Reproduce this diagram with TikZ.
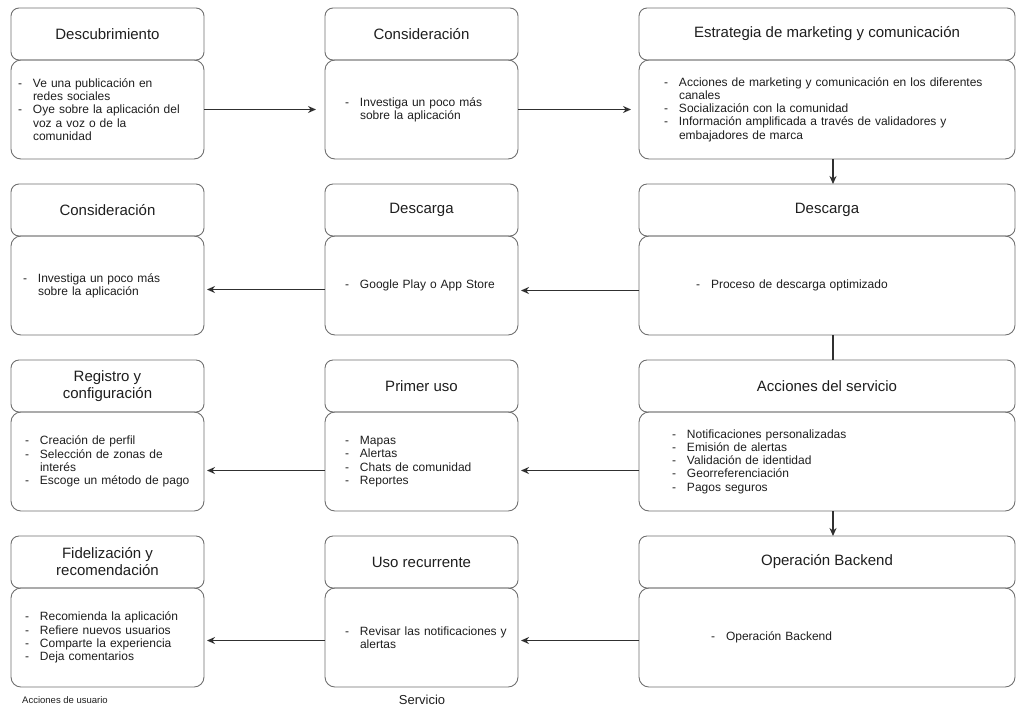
\documentclass[tikz,border=0pt]{standalone}
\usepackage{fontspec}
\setmainfont{Liberation Sans}
\usetikzlibrary{arrows.meta,positioning}
\definecolor{Ink}{HTML}{1E1E1E}
\definecolor{Edge}{HTML}{6F6F6F}
\definecolor{Muted}{HTML}{303030}
\newcommand{\li}[1]{\mbox{\makebox[15pt][l]{-}#1}}
\newcommand{\co}[1]{\mbox{\hspace*{15pt}#1}}
\tikzset{head/.style={rounded corners=8pt,draw=Edge,line width=.9pt,minimum height=52pt,align=center,outer sep=0pt,text=Ink,font=\fontsize{15}{17}\selectfont},panel/.style={rounded corners=10pt,draw=Edge,line width=.9pt,minimum height=99pt,align=left,outer sep=0pt,text=Ink,font=\fontsize{12}{13.3}\selectfont},narrow/.style={minimum width=193pt},wide/.style={minimum width=376pt},flow/.style={-{Stealth[length=8pt,width=7pt]},line width=1.4pt,draw=Muted},link/.style={line width=1.4pt,draw=Muted},caption/.style={text=Ink,font=\fontsize{9.5}{11}\selectfont}}

\begin{document}
\begin{tikzpicture}
      \useasboundingbox (0,0) rectangle (1016pt,-710pt);
      % fila 1
      \node[head,narrow,anchor=north west](t11) at (11pt,-8pt){Descubrimiento};
      \node[panel,narrow,inner xsep=7pt,text width=179pt,below=0pt of t11](b11){\li{Ve una publicación en}\\\co{redes sociales}\\\li{Oye sobre la aplicación del}\\\co{voz a voz o de la}\\\co{comunidad}};
      \node[head,narrow,right=121pt of t11](t12){Consideración};
      \node[panel,narrow,inner xsep=20pt,text width=153pt,below=0pt of t12](b12){\li{Investiga un poco más}\\\co{sobre la aplicación}};
      \node[head,wide,right=121pt of t12](t13){Estrategia de marketing y comunicación};
      \node[panel,wide,inner xsep=25pt,text width=326pt,below=0pt of t13](b13){\li{Acciones de marketing y comunicación en los diferentes}\\\co{canales}\\\li{Socialización con la comunidad}\\\li{Información amplificada a través de validadores y}\\\co{embajadores de marca}};
      % fila 2
      \node[head,narrow,below=25pt of b11](t21){Consideración};
      \node[panel,narrow,inner xsep=12pt,text width=169pt,below=0pt of t21](b21){\li{Investiga un poco más}\\\co{sobre la aplicación}};
      \node[head,narrow,below=25pt of b12](t22){Descarga};
      \node[panel,narrow,inner xsep=20pt,text width=153pt,below=0pt of t22](b22){\li{Google Play o App Store}};
      \node[head,wide,below=25pt of b13](t23){Descarga};
      \node[panel,wide,inner xsep=57pt,text width=262pt,below=0pt of t23](b23){\li{Proceso de descarga optimizado}};
      % fila 3
      \node[head,narrow,below=25pt of b21](t31){Registro y\\configuración};
      \node[panel,narrow,inner xsep=14pt,text width=165pt,below=0pt of t31](b31){\li{Creación de perfil}\\\li{Selección de zonas de}\\\co{interés}\\\li{Escoge un método de pago}};
      \node[head,narrow,below=25pt of b22](t32){Primer uso};
      \node[panel,narrow,inner xsep=20pt,text width=153pt,below=0pt of t32](b32){\li{Mapas}\\\li{Alertas}\\\li{Chats de comunidad}\\\li{Reportes}};
      \node[head,wide,below=25pt of b23](t33){Acciones del servicio};
      \node[panel,wide,inner xsep=33pt,text width=310pt,below=0pt of t33](b33){\li{Notificaciones personalizadas}\\\li{Emisión de alertas}\\\li{Validación de identidad}\\\li{Georreferenciación}\\\li{Pagos seguros}};
      % fila 4
      \node[head,narrow,below=25pt of b31](t41){Fidelización y\\recomendación};
      \node[panel,narrow,inner xsep=14pt,text width=165pt,below=0pt of t41](b41){\li{Recomienda la aplicación}\\\li{Refiere nuevos usuarios}\\\li{Comparte la experiencia}\\\li{Deja comentarios}};
      \node[head,narrow,below=25pt of b32](t42){Uso recurrente};
      \node[panel,narrow,inner xsep=20pt,text width=153pt,below=0pt of t42](b42){\li{Revisar las notificaciones y}\\\co{alertas}};
      \node[head,wide,below=25pt of b33](t43){Operación Backend};
      \node[panel,wide,inner xsep=72pt,text width=232pt,below=0pt of t43](b43){\li{Operación Backend}};
      \node[caption](user) at (65pt,-700pt){Acciones de usuario};
      \node[caption,font=\fontsize{13}{15}\selectfont](serv) at (422pt,-700pt){Servicio};
      % conectores
      \draw[flow,shorten >=9pt](b11)--(b12);\draw[flow,shorten >=8pt](b12)--(b13);
      \draw[flow]([xshift=6pt]b13.south)--([xshift=6pt]t23.north);
      \draw[flow,shorten >=3pt]([yshift=-5pt]b23.west)--([yshift=-5pt]b22.east);\draw[flow,shorten >=3pt]([yshift=-4pt]b22.west)--([yshift=-4pt]b21.east);
      \draw[link]([xshift=6pt]b23.south)--([xshift=6pt]t33.north);
      \draw[flow,shorten >=3pt]([yshift=-9pt]b33.west)--([yshift=-9pt]b32.east);\draw[flow,shorten >=3pt]([yshift=-9pt]b32.west)--([yshift=-9pt]b31.east);
      \draw[flow]([xshift=6pt]b33.south)--([xshift=6pt]t43.north);
      \draw[flow,shorten >=3pt]([yshift=-3pt]b43.west)--([yshift=-3pt]b42.east);\draw[flow,shorten >=3pt]([yshift=-3pt]b42.west)--([yshift=-3pt]b41.east);
    \end{tikzpicture}
\end{document}
